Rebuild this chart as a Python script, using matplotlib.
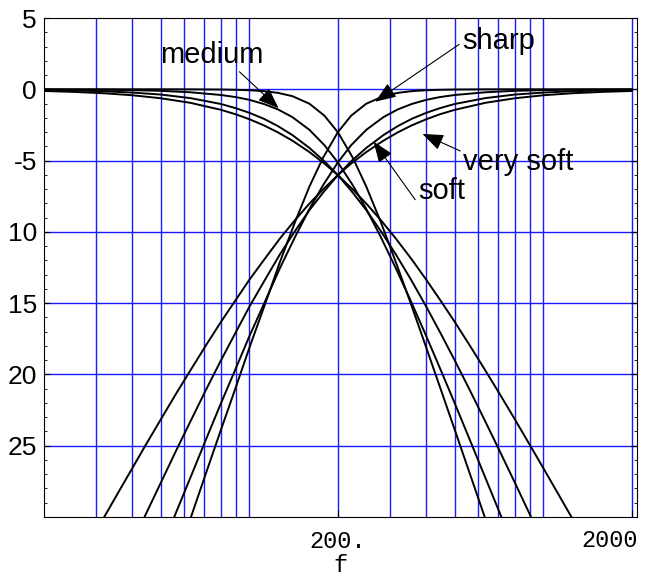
import matplotlib.pyplot as plt
from matplotlib.ticker import FixedLocator, MultipleLocator, NullLocator

lp_f = [20, 25, 32, 40, 50, 63, 80, 90, 100, 112, 125, 140, 160, 180, 200, 225, 250,
        280, 315, 355, 400, 450, 500, 560, 630, 710, 800, 900, 1000, 1120, 1250, 1600, 2000]
# high-pass curves read at the mirrored frequencies (the plot is symmetric about 200 Hz)
hp_f = [2000, 1600, 1250, 1000, 800, 635, 500, 444, 400, 357, 320, 286, 250, 222, 200, 178, 160,
        143, 127, 113, 100, 89, 80, 71.4, 63.5, 56.3, 50, 44.4, 40, 35.7, 32, 25, 20]

sharp = [0, 0, 0, 0, 0, -0.004, -0.018, -0.036, -0.067, -0.13, -0.25, -0.48, -1.01, -1.85, -3.01,
         -4.81, -6.83, -9.31, -12.12, -15.08, -18.13, -21.16, -23.89, -26.84, -29.91, -33.0,
         -36.1, -39.0, -41.8, -44.7, -47.6, -54, -60]
medium = [-0.01, -0.02, -0.03, -0.06, -0.11, -0.21, -0.40, -0.55, -0.74, -1.03, -1.41, -1.95,
          -2.84, -3.92, -5.13, -6.74, -8.40, -10.36, -12.55, -14.89, -17.32, -19.79, -22.03,
          -24.49, -27.06, -29.68, -32.3, -35, -37.5, -40, -42.5, -48, -53]
soft = [-0.05, -0.08, -0.14, -0.23, -0.37, -0.62, -1.03, -1.33, -1.65, -2.07, -2.58, -3.21,
        -4.11, -5.05, -6.02, -7.26, -8.48, -9.94, -11.58, -13.36, -15.25, -17.21, -19.02,
        -21.02, -23.15, -25.35, -27.58, -29.81, -31.8, -34, -36, -40, -44]
very_soft = [-0.12, -0.18, -0.28, -0.42, -0.63, -0.95, -1.44, -1.76, -2.10, -2.53, -3.02, -3.60,
             -4.40, -5.21, -6.02, -7.03, -8.02, -9.17, -10.47, -11.87, -13.36, -14.90, -16.32,
             -17.91, -19.60, -21.35, -23.14, -24.94, -26.56, -28.32, -30.03, -33.9, -37.5]
curves = [sharp, medium, soft, very_soft]

grid_f = [30, 40, 50, 60, 70, 80, 90, 100, 200, 300, 400, 500, 600, 700, 800, 900, 1000, 2000]
grid_db = [0, -5, -10, -15, -20, -25]
y_ticks = [5, 0, -5, -10, -15, -20, -25]
y_labels = ['5', '0', '-5', '10', '15', '20', '25']

W, H = 652, 582
fig = plt.figure(figsize=(W / 100, H / 100), dpi=100)
ax = fig.add_axes([44 / W, 1 - 517 / H, (637 - 44) / W, (517 - 18) / H])
ax.set_xscale('log')
ax.set_xlim(20, 2085)
ax.set_ylim(-30, 5)

for g in grid_f:
    ax.axvline(g, color='#1a1aff', lw=1.0, zorder=1)
for g in grid_db:
    ax.axhline(g, color='#1a1aff', lw=1.0, zorder=1)

for c in curves:
    ax.plot(lp_f, c, color='black', lw=1.4, zorder=3)
    ax.plot(hp_f, c, color='black', lw=1.4, zorder=3)

mono = 'Liberation Mono'
ax.xaxis.set_major_locator(FixedLocator([200, 2000]))
ax.xaxis.set_minor_locator(NullLocator())
ax.set_xticklabels(['200.', ''], fontfamily=mono, fontsize=17)
ax.text(1.002, -12 / 499, '2000', transform=ax.transAxes, ha='right', va='top',
        fontfamily=mono, fontsize=17)
ax.set_yticks(y_ticks)
ax.set_yticklabels(y_labels, fontfamily='Liberation Sans', fontsize=19)
ax.yaxis.set_minor_locator(MultipleLocator(1))
ax.tick_params(which='both', direction='in', right=True, top=False)
ax.tick_params(axis='x', which='major', length=5, pad=9)
ax.tick_params(axis='y', which='major', length=4, pad=5)
ax.tick_params(which='minor', length=2.5)
ax.set_xlabel('f', fontfamily=mono, fontsize=17, labelpad=1)

def label(text, tip, pos, rel):
    ax.annotate(text, xy=tip, xycoords='data', xytext=pos, textcoords='figure pixels',
                fontsize=21, fontfamily='Liberation Sans', ha='left', va='baseline',
                arrowprops=dict(arrowstyle='-|>,head_length=0.65,head_width=0.25',
                                color='black', lw=0.8, mutation_scale=20,
                                shrinkA=0, shrinkB=0, relpos=rel))

label('medium', (125.7, -1.33), (160, H - 63), (0.74, 0))
label('sharp', (268, -0.87), (462, H - 49), (0, 0.45))
label('very soft', (388, -3.13), (463, H - 170), (0, 0.85))
label('soft', (264.6, -3.67), (418, H - 199), (0, 0.05))

fig.savefig('out.png', dpi=100)
